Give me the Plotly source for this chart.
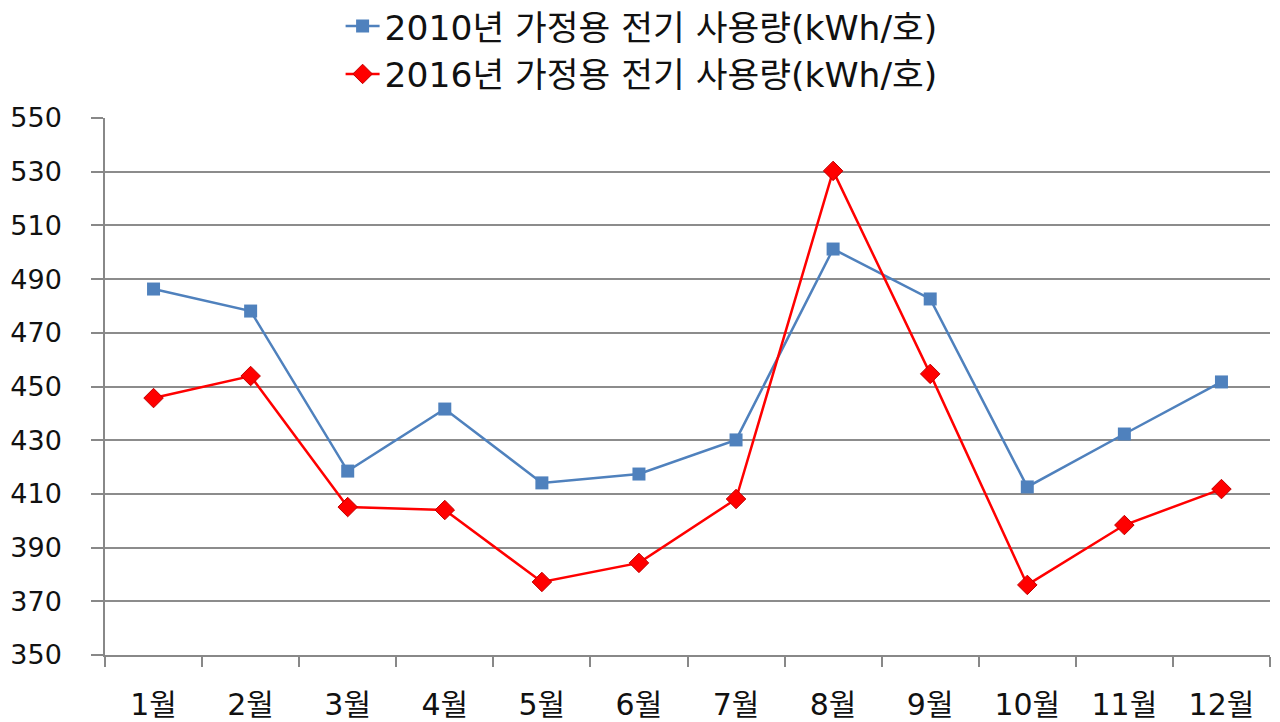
import plotly.graph_objects as go

months = ["1월", "2월", "3월", "4월", "5월", "6월", "7월", "8월", "9월", "10월", "11월", "12월"]
use_2010 = [486.3, 478.1, 418.5, 441.6, 414.1, 417.4, 430.1, 501.2, 482.6, 412.6, 432.3, 451.7]
use_2016 = [445.7, 453.9, 405.1, 404.0, 377.2, 384.3, 408.1, 530.3, 454.7, 376.1, 398.4, 411.8]
name_2010 = "2010년 가정용 전기 사용량(kWh/호)"
name_2016 = "2016년 가정용 전기 사용량(kWh/호)"
y_ticks = [350, 370, 390, 410, 430, 450, 470, 490, 510, 530, 550]

font_family = "DejaVu Sans, Noto Sans CJK KR"

fig = go.Figure()
fig.add_trace(go.Scatter(
    x=months, y=use_2010, name=name_2010, mode="lines+markers",
    line=dict(color="#4F81BD", width=2.5),
    marker=dict(symbol="square", size=13, color="#4F81BD"),
))
fig.add_trace(go.Scatter(
    x=months, y=use_2016, name=name_2016, mode="lines+markers",
    line=dict(color="#FF0000", width=2.5),
    marker=dict(symbol="diamond", size=15, color="#FF0000", line=dict(color="#C00000", width=1)),
))

fig.update_layout(
    width=1280, height=722,
    paper_bgcolor="white", plot_bgcolor="white",
    margin=dict(l=97, r=18, t=110, b=75, autoexpand=False),
    font=dict(family=font_family, color="#111111"),
    legend=dict(
        orientation="v", x=0.495, xanchor="center", xref="container",
        y=1.225, yanchor="top", yref="paper",
        font=dict(size=34.5, family=font_family, color="#111111"),
        itemwidth=34, tracegroupgap=0, bgcolor="rgba(0,0,0,0)",
    ),
    xaxis=dict(
        type="category", tickson="boundaries", ticks="outside", ticklen=10,
        tickcolor="#888888", tickwidth=1.5, tickangle=0,
        showgrid=False, showline=True, linecolor="#888888", linewidth=1.5,
        tickfont=dict(size=30, family=font_family, color="#111111"),
        range=[-0.5, 11.5], automargin=False, ticklabelstandoff=22,
    ),
    yaxis=dict(
        range=[350, 550], tickvals=y_ticks, ticks="outside", ticklen=12,
        tickcolor="#888888", tickwidth=1.5,
        showgrid=True, gridcolor="#8c8c8c", gridwidth=1.5,
        showline=True, linecolor="#888888", linewidth=1.5,
        tickfont=dict(size=27, family=font_family, color="#111111"),
        zeroline=False, automargin=False, ticklabelstandoff=24,
    ),
)

fig.write_html("out.html")
